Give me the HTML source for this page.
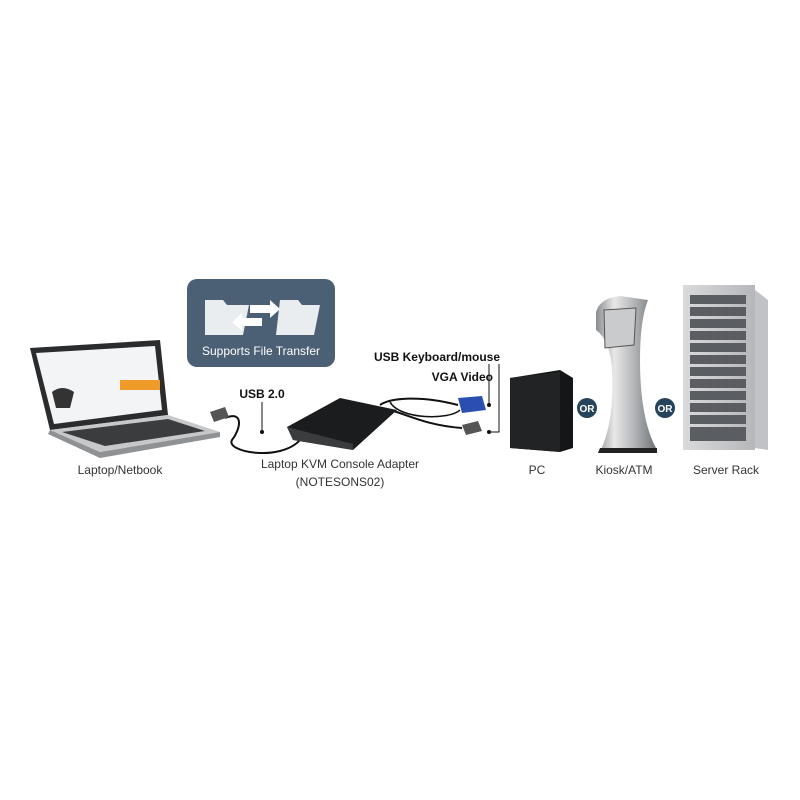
<!DOCTYPE html>
<html><head><style>
body{margin:0;background:#fff}
svg{display:block}
text{font-family:"Liberation Sans",sans-serif}
</style></head><body>
<svg width="800" height="800" viewBox="0 0 800 800" xmlns="http://www.w3.org/2000/svg">
<defs>
<linearGradient id="silver" x1="0" x2="1"><stop offset="0" stop-color="#8a8d90"/><stop offset="0.3" stop-color="#e8e8e8"/><stop offset="0.6" stop-color="#b7b9bb"/><stop offset="1" stop-color="#6e7174"/></linearGradient>
<linearGradient id="rack" x1="0" x2="1"><stop offset="0" stop-color="#d9dadc"/><stop offset="1" stop-color="#b5b7ba"/></linearGradient>
</defs>
<!-- file transfer box -->
<rect x="187" y="279" width="148" height="88" rx="10" fill="#4b6075"/>
<path d="M205 300 l18 0 l4 5 l22 0 l-6 30 l-38 0z" fill="#e9edf0"/>
<path d="M280 300 l18 0 l4 5 l18 0 l-6 30 l-38 0z" fill="#e9edf0"/>
<path d="M250 305 l20 0 l0 -5 l10 9 l-10 9 l0 -5 l-20 0z" fill="#fff"/>
<path d="M262 318 l-20 0 l0 -5 l-10 9 l10 9 l0 -5 l20 0z" fill="#fff"/>
<text x="261" y="355" font-size="12" fill="#fff" text-anchor="middle">Supports File Transfer</text>
<!-- laptop -->
<path d="M30 348 L160 340 L168 415 L50 430 Z" fill="#2a2c2e"/>
<path d="M36 353 L155 346 L162 410 L54 424 Z" fill="#f3f4f5"/>
<rect x="120" y="380" width="40" height="10" fill="#f09a2a" transform="skew(-5)"/>
<path d="M52 392 q10 -8 22 0 l-4 16 l-14 0z" fill="#333"/>
<path d="M50 430 L168 415 L220 432 L100 452 Z" fill="#c6c8ca"/>
<path d="M62 432 L168 419 L205 431 L105 446 Z" fill="#3a3c3e"/>
<path d="M50 430 L100 452 L220 432 L220 437 L100 458 L48 434Z" fill="#8f9295"/>
<!-- cables -->
<path d="M225 418 C245 410 240 430 232 440 C225 452 280 462 300 440" stroke="#111" stroke-width="2" fill="none"/>
<path d="M210 412 l15 -5 l4 10 l-15 5z" fill="#555"/>
<path d="M380 405 C390 398 420 395 458 405" stroke="#111" stroke-width="2" fill="none"/>
<path d="M380 408 C400 410 420 425 462 428" stroke="#111" stroke-width="2" fill="none"/>
<path d="M390 402 C400 420 450 420 460 410" stroke="#111" stroke-width="1.5" fill="none"/>
<!-- adapter -->
<path d="M287 427 L340 398 L397 410 L353 450 L293 440 Z" fill="#1b1c1e"/>
<path d="M287 427 L293 440 L353 450 L353 444 Z" fill="#3b3c3e"/>
<!-- VGA / USB connectors -->
<path d="M458 398 l24 -2 l4 14 l-24 3z" fill="#2a4fb0"/>
<path d="M462 425 l16 -4 l4 10 l-16 4z" fill="#555"/>
<!-- label leaders -->
<line x1="262" y1="402" x2="262" y2="432" stroke="#111"/><circle cx="262" cy="432" r="2" fill="#111"/>
<polyline points="489,364 489,405" stroke="#111" fill="none"/><circle cx="489" cy="405" r="2" fill="#111"/>
<polyline points="499,364 499,432 489,432" stroke="#111" fill="none"/><circle cx="489" cy="432" r="2" fill="#111"/>
<text x="262" y="398" font-size="12" font-weight="bold" text-anchor="middle" fill="#111">USB 2.0</text>
<text x="500" y="361" font-size="12" font-weight="bold" text-anchor="end" fill="#111">USB Keyboard/mouse</text>
<text x="493" y="381" font-size="12" font-weight="bold" text-anchor="end" fill="#111">VGA Video</text>
<!-- PC -->
<path d="M510 378 L560 370 L573 378 L573 448 L560 452 L510 448Z" fill="#151617"/>
<path d="M510 378 L560 372 L560 452 L510 448Z" fill="#222324"/>
<!-- kiosk -->
<path d="M596 312 Q600 298 620 296 L648 300 Q640 320 640 360 Q640 420 657 450 L600 452 Q615 420 612 370 Q610 340 596 330Z" fill="url(#silver)"/>
<path d="M604 310 L636 308 L634 345 L605 348Z" fill="#c9cbcd" stroke="#555"/>
<path d="M600 448 L657 448 L657 453 L598 453Z" fill="#222"/>
<!-- server rack -->
<rect x="683" y="285" width="72" height="165" fill="url(#rack)"/>
<path d="M755 290 L768 300 L768 450 L755 448Z" fill="#c0c2c5"/>
<g fill="#5a5d62">
<rect x="690" y="295" width="56" height="9"/><rect x="690" y="307" width="56" height="9"/><rect x="690" y="319" width="56" height="9"/><rect x="690" y="331" width="56" height="9"/><rect x="690" y="343" width="56" height="9"/><rect x="690" y="355" width="56" height="9"/><rect x="690" y="367" width="56" height="9"/><rect x="690" y="379" width="56" height="9"/><rect x="690" y="391" width="56" height="9"/><rect x="690" y="403" width="56" height="9"/><rect x="690" y="415" width="56" height="9"/><rect x="690" y="427" width="56" height="14"/>
</g>
<!-- OR circles -->
<circle cx="587" cy="408" r="10" fill="#26435c"/><text x="587" y="412" font-size="10" font-weight="bold" fill="#fff" text-anchor="middle">OR</text>
<circle cx="665" cy="408" r="10" fill="#26435c"/><text x="665" y="412" font-size="10" font-weight="bold" fill="#fff" text-anchor="middle">OR</text>
<!-- labels -->
<g font-size="12" fill="#333" text-anchor="middle">
<text x="120" y="474">Laptop/Netbook</text>
<text x="340" y="468">Laptop KVM Console Adapter</text>
<text x="340" y="486">(NOTESONS02)</text>
<text x="537" y="474">PC</text>
<text x="624" y="474">Kiosk/ATM</text>
<text x="726" y="474">Server Rack</text>
</g>
</svg>
</body></html>
